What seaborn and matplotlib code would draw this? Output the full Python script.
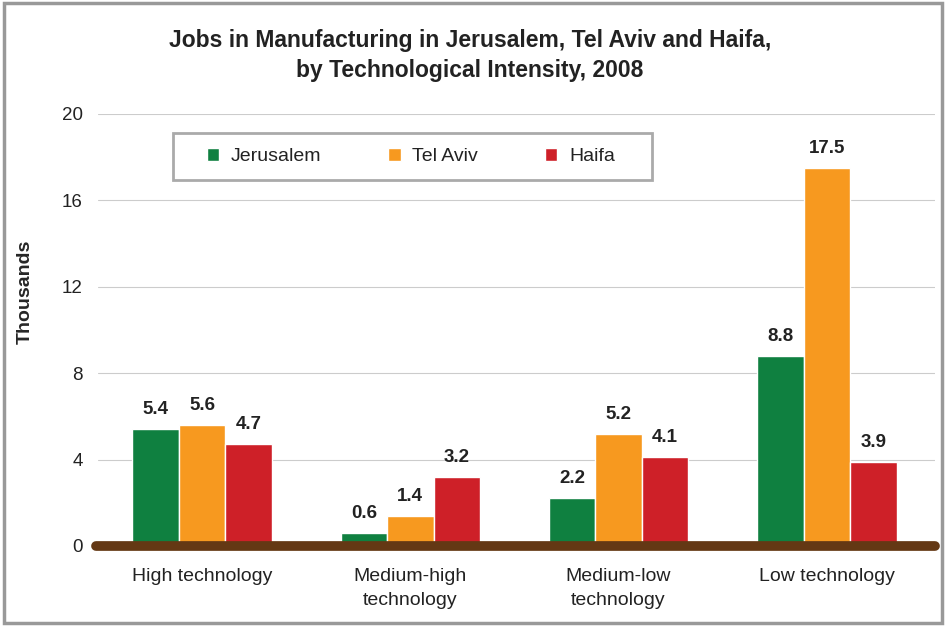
import matplotlib.pyplot as plt
import matplotlib.patches as mpatches
import seaborn as sns
import pandas as pd

categories = ['High technology', 'Medium-high\ntechnology',
              'Medium-low\ntechnology', 'Low technology']
cities = ['Jerusalem', 'Tel Aviv', 'Haifa']
jerusalem = [5.4, 0.6, 2.2, 8.8]
tel_aviv = [5.6, 1.4, 5.2, 17.5]
haifa = [4.7, 3.2, 4.1, 3.9]
colors = ['#0F8040', '#F7991F', '#CE2028']

df = pd.DataFrame({
    'category': categories * 3,
    'city': [c for c in cities for _ in categories],
    'jobs': jerusalem + tel_aviv + haifa,
})

sns.set_style('white')
plt.rcParams['font.family'] = ['Liberation Sans', 'DejaVu Sans']

fig = plt.figure(figsize=(9.46, 6.26), dpi=100)
ax = fig.add_axes([0.1036, 0.1278, 0.8848, 0.6901])

sns.barplot(data=df, x='category', y='jobs', hue='city', order=categories,
            hue_order=cities, palette=colors, width=0.67, gap=0,
            saturation=1, ax=ax, legend=True)

for cont in ax.containers:
    ax.bar_label(cont, fmt='%.1f', padding=8, fontsize=13.5,
                 fontweight='bold', color='#222222')

ax.set_xlim(-0.5, 3.52)
ax.set_ylim(0, 20)
ax.set_yticks([0, 4, 8, 12, 16, 20])
ax.yaxis.grid(True, color='#cccccc', linewidth=0.8)
ax.set_axisbelow(True)
for s in ax.spines.values():
    s.set_visible(False)
ax.tick_params(axis='both', length=0, colors='#222222')
ax.tick_params(axis='x', pad=16, labelsize=14)
ax.tick_params(axis='y', pad=11, labelsize=13.5)
for lbl in ax.get_xticklabels():
    lbl.set_linespacing(1.5)
ax.set_xlabel('')
ax.set_ylabel('Thousands', fontsize=14, fontweight='bold')
ax.yaxis.set_label_coords(-0.077, 0.588)

ax.plot([-0.51, 3.52], [0, 0], color='#643814', linewidth=7,
        solid_capstyle='round', clip_on=False, zorder=5)

# legend entries spread inside a separately drawn box
leg = ax.legend(loc='center', bbox_to_anchor=(0.130, 0.847, 0.4875, 0.109),
                mode='expand', ncol=3, frameon=False, fontsize=14,
                handlelength=0.65, handleheight=0.65, borderpad=0,
                borderaxespad=0, handletextpad=0.6)
for t in leg.get_texts():
    t.set_color('#222222')
ax.add_patch(mpatches.Rectangle((0.0896, 0.847), 0.5724, 0.109,
                                transform=ax.transAxes, fill=True,
                                facecolor='white', edgecolor='#aaaaaa',
                                linewidth=2, zorder=4))
leg.set_zorder(6)

fig.suptitle('Jobs in Manufacturing in Jerusalem, Tel Aviv and Haifa,\n'
             'by Technological Intensity, 2008',
             x=0.497, y=0.953, va='top', fontsize=16.5, fontweight='bold',
             color='#222222', linespacing=1.35)

fig.patches.append(mpatches.Rectangle((0.004, 0.005), 0.992, 0.99,
                                      transform=fig.transFigure,
                                      fill=False, edgecolor='#999999',
                                      linewidth=2.5))

fig.savefig('out.png', dpi=100)
